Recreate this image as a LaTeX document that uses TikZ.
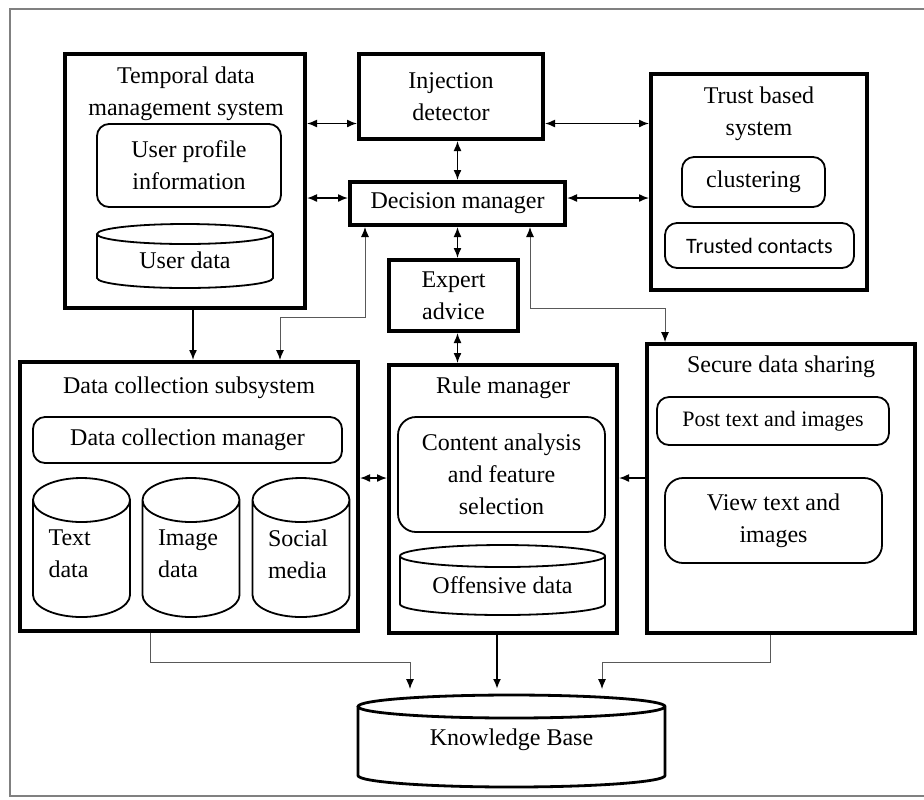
\documentclass[tikz,border=0pt]{standalone}
\usepackage{fontspec}
\setmainfont{Liberation Serif}
\newfontfamily\calibrifont{Carlito}
\usetikzlibrary{positioning}
\usetikzlibrary{arrows.meta}

% cylindre autour d'un noeud : [options]{nom}{rayon x}{rayon y}
\newcommand\drawcyl[4][]{%
  \draw[line width=0.9pt, #1] ([yshift=-#4]#2.north west) -- ([yshift=#4]#2.south west)
    arc[start angle=180, end angle=360, x radius=#3, y radius=#4]
    -- ([yshift=-#4]#2.north east)
    arc[start angle=0, end angle=180, x radius=#3, y radius=#4]
    arc[start angle=180, end angle=360, x radius=#3, y radius=#4];}

\tikzset{
  >={Latex[length=5pt,width=4pt]},
  bigbox/.style={draw, line width=2pt, inner sep=0pt, align=center},
  subbox/.style={draw, line width=0.9pt, rounded corners=6pt, inner sep=0pt, align=center},
  store/.style={inner sep=0pt, outer sep=0pt},
  media/.style={store, minimum width=48.5pt, minimum height=69.5pt},
  title/.style={inner sep=0pt, align=center},
  mediatext/.style={inner sep=0pt, text width=33pt, align=left},
  link/.style={line width=0.75pt, <->},
  flow/.style={line width=0.75pt, ->},
  thinlink/.style={line width=0.5pt, draw=black!65,
    {Latex[length=5pt,width=4pt,color=black]}-{Latex[length=5pt,width=4pt,color=black]}},
  thinflow/.style={line width=0.5pt, draw=black!65, -{Latex[length=5pt,width=4pt,color=black]}}
}

\begin{document}
\begin{tikzpicture}[x=0.5pt, y=-0.5pt, font=\fontsize{12}{16}\selectfont]
  \useasboundingbox (0,0) rectangle (924,799);
  % cadre
  \draw[gray, line width=0.7pt] (924,9) -- (10,9) -- (10,796) -- (924,796);

  % Temporal data management system
  \node[bigbox, minimum width=120pt, minimum height=127pt] (tdms) at (185,181) {};
  \node[title] (tdmsT) at (186,94) {Temporal data\\management system};
  \node[subbox, minimum width=92pt, minimum height=41.5pt] (prof) at (189,165.5) {User profile\\information};
  \node[store, minimum width=88pt, minimum height=32pt] (udata) at (185,256) {};
  \drawcyl{udata}{44pt}{5pt}
  \node[title] (udataT) at (185,260) {User data};

  % Centre
  \node[bigbox, minimum width=92pt, minimum height=42.5pt] (inj) at (451,96.5) {Injection\\detector};
  \node[bigbox, minimum width=107.5pt, minimum height=21.5pt] (dec) at (457.5,203.5) {Decision manager};
  \node[bigbox, minimum width=64.5pt, minimum height=35.5pt] (exp) at (453.5,295.5) {Expert\\advice};

  % Trust based system
  \node[bigbox, minimum width=108pt, minimum height=108pt] (trust) at (759,182) {};
  \node[title] (trustT) at (759,114) {Trust based\\system};
  \node[subbox, minimum width=71.5pt, minimum height=25pt] (clus) at (753.5,182) {clustering};
  \node[subbox, minimum width=94.5pt, minimum height=22.5pt, font=\calibrifont\fontsize{11}{13}\selectfont] (tcont) at (759.5,245.5) {Trusted contacts};

  % Data collection subsystem
  \node[bigbox, minimum width=169pt, minimum height=134.5pt] (dcs) at (189,496.5) {};
  \node[title] (dcsT) at (189,388) {Data collection subsystem};
  \node[subbox, minimum width=154.5pt, minimum height=23pt] (dcm) at (187.5,440) {Data collection manager};
  \node[media] (txt) at (81.5,547.5) {};
  \node[media] (img) at (191,547.5) {};
  \node[media] (soc) at (301,547.5) {};
  \drawcyl{txt}{24.25pt}{11pt}
  \drawcyl{img}{24.25pt}{11pt}
  \drawcyl{soc}{24.25pt}{11pt}
  \node[mediatext] (txtT) at (81.5,554) {Text\\data};
  \node[mediatext] (imgT) at (191,554) {Image\\data};
  \node[mediatext] (socT) at (301,554) {Social\\media};

  % Rule manager
  \node[bigbox, minimum width=114pt, minimum height=134pt] (rule) at (503,499) {};
  \node[title] (ruleT) at (503,388) {Rule manager};
  \node[subbox, rounded corners=9pt, minimum width=103.5pt, minimum height=57.5pt] (caf) at (501.5,474.5) {Content analysis\\and feature\\selection};
  \node[store, minimum width=102.5pt, minimum height=35pt] (off) at (502.5,580) {};
  \drawcyl{off}{51.25pt}{5.5pt}
  \node[title] (offT) at (502.5,585) {Offensive data};

  % Secure data sharing
  \node[bigbox, minimum width=134pt, minimum height=144.5pt] (sds) at (781,488.5) {};
  \node[title] (sdsT) at (781,367) {Secure data sharing};
  \node[subbox, minimum width=116pt, minimum height=24pt, font=\fontsize{11}{13}\selectfont] (post) at (773,421) {Post text and images};
  \node[subbox, rounded corners=9pt, minimum width=108.5pt, minimum height=42.5pt] (view) at (773.5,520.5) {View text and\\images};

  % Knowledge Base
  \node[store, minimum width=153.5pt, minimum height=46pt] (kb) at (511.5,741) {};
  \drawcyl[line width=1.4pt]{kb}{76.75pt}{5.75pt}
  \node[title] (kbT) at (511.5,740) {Knowledge Base};

  % Fleches
  \coordinate (injL) at ([yshift=-13.5pt]inj.west);
  \coordinate (injR) at ([yshift=-13.5pt]inj.east);
  \coordinate (decL) at ([yshift=2.75pt]dec.west);
  \coordinate (decR) at ([yshift=2.75pt]dec.east);
  \draw[link] (injL -| tdms.east) -- (injL);
  \draw[link] (injR) -- (injR -| trust.west);
  \draw[link] (decL -| tdms.east) -- (decL);
  \draw[link] (decR) -- (decR -| trust.west);
  \draw[link] (inj.south -| dec.north) -- (dec.north);
  \draw[link] (dec.south) -- (exp.north -| dec.south);
  \draw[link] (exp.south -| dec.south) -- (rule.north -| dec.south);

  \coordinate (tdmsB) at ([xshift=4pt]tdms.south);
  \draw[flow] (tdmsB) -- (tdmsB |- dcs.north);
  \draw[thinlink] ([xshift=45.5pt]dcs.north) -- ++(0,-43) -| ([xshift=-46.25pt]dec.south);
  \draw[thinlink] ([xshift=36.25pt]dec.south) -- ++(0,81) -| ([xshift=-58pt]sds.north);

  \coordinate (dcsR) at ([yshift=9.25pt]dcs.east);
  \coordinate (sdsL) at ([yshift=5.25pt]sds.west);
  \draw[link] (dcsR) -- (dcsR -| rule.west);
  \draw[flow] (sdsL) -- (sdsL -| rule.east);

  \coordinate (kbtop) at ([yshift=3pt]kb.north);
  \coordinate (ruleB) at ([xshift=-3pt]rule.south);
  \draw[thinflow] ([xshift=-19.5pt]dcs.south) -- ++(0,29) -| ([xshift=-50.75pt]kbtop);
  \draw[flow, line width=1pt] (ruleB) -- (ruleB |- kbtop);
  \draw[thinflow] ([xshift=-5.5pt]sds.south) -- ++(0,27) -| ([xshift=45.25pt]kbtop);
\end{tikzpicture}
\end{document}
